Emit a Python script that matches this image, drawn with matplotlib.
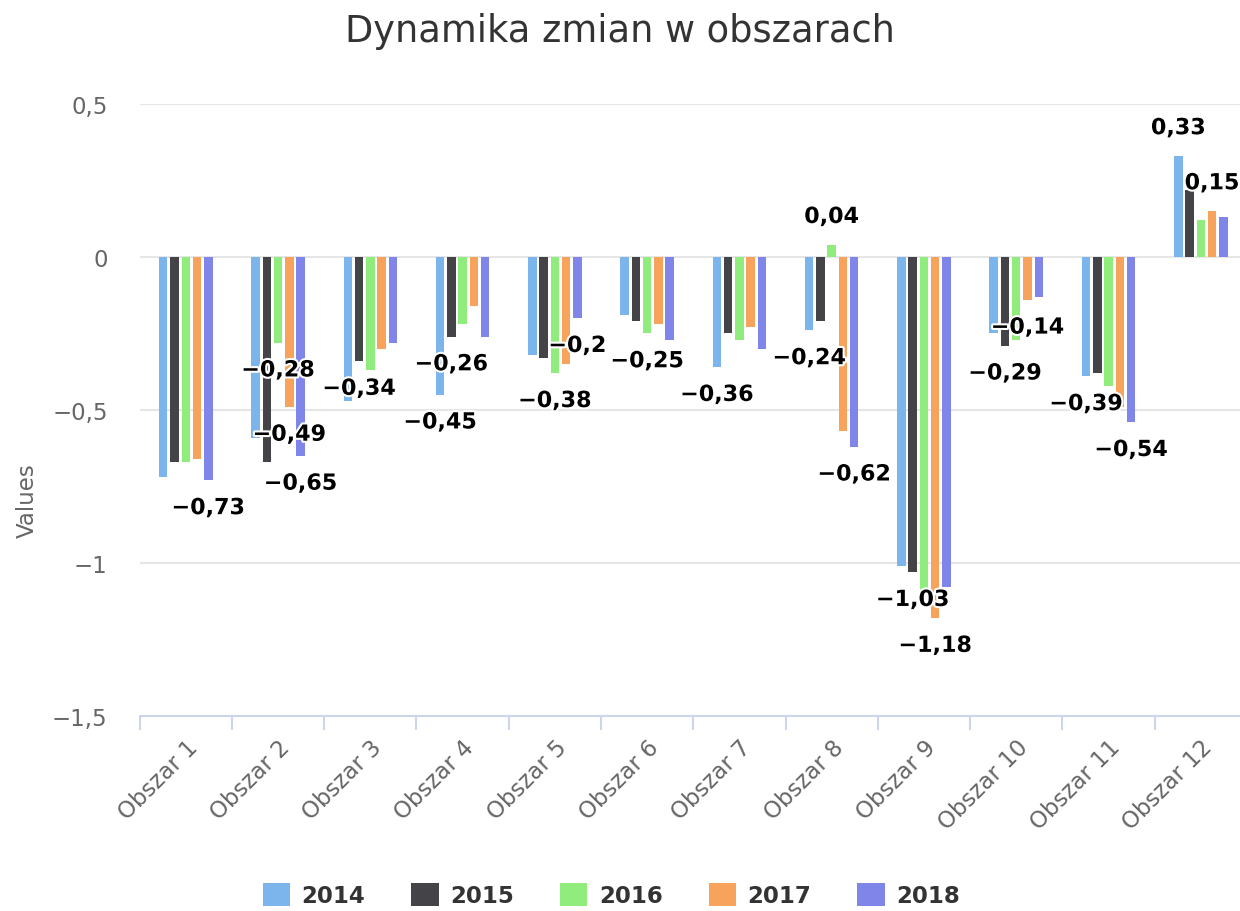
import numpy as np
import matplotlib
matplotlib.use("Agg")
import matplotlib.pyplot as plt
import matplotlib.patheffects as pe
from matplotlib.patches import Patch

categories = ["Obszar 1", "Obszar 2", "Obszar 3", "Obszar 4", "Obszar 5", "Obszar 6",
              "Obszar 7", "Obszar 8", "Obszar 9", "Obszar 10", "Obszar 11", "Obszar 12"]
years = ["2014", "2015", "2016", "2017", "2018"]

v2014 = [-0.72, -0.59, -0.47, -0.45, -0.32, -0.19, -0.36, -0.24, -1.01, -0.25, -0.39, 0.33]
v2015 = [-0.67, -0.67, -0.34, -0.26, -0.33, -0.21, -0.25, -0.21, -1.03, -0.29, -0.38, 0.22]
v2016 = [-0.67, -0.28, -0.37, -0.22, -0.38, -0.25, -0.27, 0.04, -1.10, -0.27, -0.42, 0.12]
v2017 = [-0.66, -0.49, -0.30, -0.16, -0.35, -0.22, -0.23, -0.57, -1.18, -0.14, -0.49, 0.15]
v2018 = [-0.73, -0.65, -0.28, -0.26, -0.20, -0.27, -0.30, -0.62, -1.08, -0.13, -0.54, 0.13]
series = [v2014, v2015, v2016, v2017, v2018]

# (series index, category index) of the bars whose value label is visible
labelled = [(4, 0), (2, 1), (3, 1), (4, 1), (1, 2), (0, 3), (1, 3), (2, 4), (4, 4),
            (2, 5), (0, 6), (0, 7), (2, 7), (4, 7), (1, 8), (3, 8), (1, 9), (3, 9),
            (0, 10), (4, 10), (0, 11), (3, 11)]

colors = ["#7cb5ec", "#434348", "#90ed7d", "#f7a35c", "#8085e9"]

plt.rcParams["font.family"] = ["DejaVu Sans"]


def fmt(v):
    return f"{v:g}".replace(".", ",").replace("-", "\u2212")


fig = plt.figure(figsize=(12.4, 9.12), dpi=100)
ax = fig.add_axes([0.1126, 0.2138, 0.893, 0.6711])

x = np.arange(len(categories))
step = 0.122
width = 0.092
for i, vals in enumerate(series):
    ax.bar(x + (i - 2) * step, vals, width, color=colors[i], zorder=3)

for si, ci in labelled:
    v = series[si][ci]
    off = 20 if v >= 0 else -20
    ax.annotate(fmt(v), (ci + (si - 2) * step, v), xytext=(0, off),
                textcoords="offset points", ha="center", va="center",
                fontsize=16, fontweight="bold", color="black", zorder=5,
                path_effects=[pe.withStroke(linewidth=3, foreground="white")])

ax.set_xlim(-0.5, len(categories) - 0.5)
ax.set_ylim(-1.5, 0.5)
yt = [-1.5, -1, -0.5, 0, 0.5]
ax.set_yticks(yt)
ax.set_yticklabels([fmt(t) for t in yt], fontsize=16.5, color="#666666")
ax.tick_params(axis="y", length=0, pad=23)
ax.grid(axis="y", color="#e6e6e6", linewidth=1.5, zorder=0)

# ticks on category boundaries, labels on category centres
ax.set_xticks(np.arange(-0.5, len(categories), 1.0))
ax.set_xticklabels([])
ax.tick_params(axis="x", which="major", length=10, width=1.5, color="#ccd6eb")
ax.set_xticks(x, minor=True)
ax.set_xticklabels(categories, minor=True, rotation=45, ha="right",
                   rotation_mode="anchor", fontsize=16.5, color="#666666")
ax.tick_params(axis="x", which="minor", length=0, pad=14)

for s in ["top", "right", "left"]:
    ax.spines[s].set_visible(False)
ax.spines["bottom"].set_color("#ccd6eb")
ax.spines["bottom"].set_linewidth(1.5)
ax.spines["bottom"].set_zorder(4)

fig.text(0.022, 0.4507, "Values", rotation=90, ha="center", va="center",
         fontsize=16.5, color="#666666")
fig.text(0.5, 0.966, "Dynamika zmian w obszarach", ha="center", va="center",
         fontsize=26.5, color="#333333")

handles = [Patch(facecolor=c, edgecolor="none") for c in colors]
leg = fig.legend(handles, years, loc="center", bbox_to_anchor=(0.493, 0.0175),
                 ncol=5, frameon=False, handlelength=1.2, handleheight=1.2,
                 columnspacing=2.0, handletextpad=0.5,
                 prop={"size": 16.5, "weight": "bold"})
for t in leg.get_texts():
    t.set_color("#333333")

fig.savefig("out.png", dpi=100)
